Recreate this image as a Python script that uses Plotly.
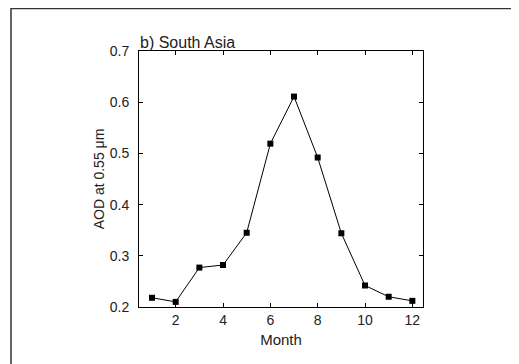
import plotly.graph_objects as go

months = [1, 2, 3, 4, 5, 6, 7, 8, 9, 10, 11, 12]
aod = [0.218, 0.210, 0.277, 0.282, 0.345, 0.519, 0.611, 0.492, 0.344, 0.242, 0.220, 0.212]
x_ticks = [2, 4, 6, 8, 10, 12]
y_ticks = [0.2, 0.3, 0.4, 0.5, 0.6, 0.7]

FONT = "Liberation Sans, Arial"

fig = go.Figure()
fig.add_trace(go.Scatter(
    x=months, y=aod, mode="lines+markers",
    line=dict(color="black", width=1),
    marker=dict(symbol="square", size=6, color="black"),
    showlegend=False,
))

axis_common = dict(
    showline=True, linecolor="black", linewidth=1, mirror="allticks",
    ticks="inside", ticklen=4, tickcolor="black", showgrid=False, zeroline=False,
    tickfont=dict(family=FONT, size=14, color="#222"),
)

# the page body has an 8px default margin, so the figure is 8px smaller
fig.update_layout(
    width=511, height=356,
    margin=dict(l=131, r=96, t=43, b=57),
    paper_bgcolor="white", plot_bgcolor="white",
    font=dict(family=FONT, size=14, color="#222"),
    xaxis=dict(range=[0.45, 12.45], tickvals=x_ticks,
               title=dict(text="Month", standoff=7, font=dict(family=FONT, size=15)),
               **axis_common),
    yaxis=dict(range=[0.2, 0.7], tickvals=y_ticks, tickformat=".1f",
               ticklabelstandoff=6,
               title=dict(text="AOD at 0.55 μm", standoff=1, font=dict(family=FONT, size=14)),
               **axis_common),
    annotations=[dict(text="b) South Asia", xref="paper", yref="paper",
                      x=0, y=1, xanchor="left", yanchor="bottom", showarrow=False,
                      font=dict(family=FONT, size=16, color="#222"), yshift=-2, xshift=-1)],
    shapes=[dict(type="rect", xref="paper", yref="paper",
                 x0=-0.4507, x1=1.3155, y0=-0.35, y1=1.1660,
                 line=dict(color="#333", width=1.5))],
)

fig.write_html("out.html")
